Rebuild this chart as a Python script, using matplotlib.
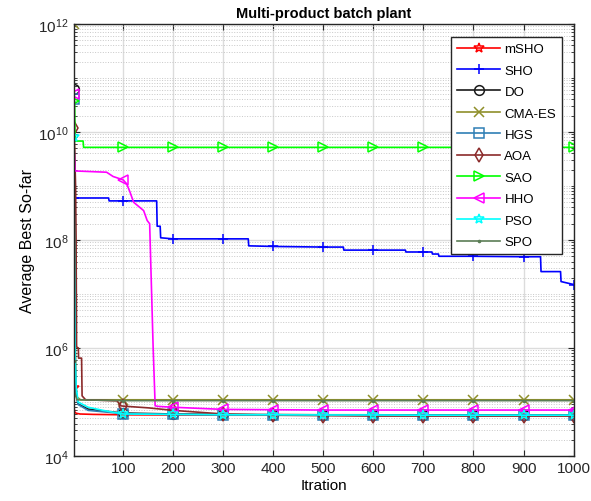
import numpy as np
import matplotlib.pyplot as plt
from matplotlib.ticker import LogLocator, NullFormatter, FixedLocator

plt.rcParams['font.family'] = ['Liberation Sans', 'DejaVu Sans']

labels = ['mSHO', 'SHO', 'DO', 'CMA-ES', 'HGS', 'AOA', 'SAO', 'HHO', 'PSO', 'SPO']
colors = ['#ff0000', '#0000ff', '#1a1a1a', '#8f8f2a', '#2f7fb5', '#8b2a2a',
          '#00ff00', '#ff00ff', '#00ffff', '#5b7d55']
markers = ['*', '+', 'o', 'x', 's', 'd', '>', '<', '*', '.']

marks_at = [1, 100, 200, 300, 400, 500, 600, 700, 800, 900, 1000]
tail = [200, 300, 400, 500, 600, 700, 800, 900, 1000]

# iteration / best value breakpoints
it_mSHO = [1, 2, 3, 6, 14, 40, 100] + tail
v_mSHO = [1.8e5, 8e4, 6.6e4, 6.2e4, 6.0e4, 5.9e4, 5.8e4,
          5.75e4, 5.7e4, 5.7e4, 5.7e4, 5.65e4, 5.65e4, 5.6e4, 5.6e4, 5.6e4]

it_SHO = [1, 71, 72, 100, 167, 168, 174, 175, 200, 300, 350, 351, 400, 500,
          540, 541, 600, 664, 665, 700, 717, 718, 730, 731, 800, 900, 934, 935,
          974, 975, 1000]
v_SHO = [6e8, 6e8, 5.3e8, 5.3e8, 5.3e8, 1.8e8, 1.8e8, 1.1e8, 1.05e8, 1.05e8,
         1.05e8, 7.8e7, 7.6e7, 7.4e7, 7.4e7, 6.5e7, 6.5e7, 6.5e7, 6e7, 6e7,
         6e7, 5.5e7, 5.5e7, 5e7, 5e7, 4.9e7, 4.9e7, 2.6e7, 2.6e7, 1.7e7, 1.5e7]

it_DO = [1, 2, 3, 4, 5, 7, 10, 30, 60, 100] + tail
v_DO = [6.3e10, 1e9, 5e7, 2e6, 2.5e5, 1.3e5, 9.2e4, 7.4e4, 6.8e4, 6.25e4,
        6e4, 5.9e4, 5.85e4, 5.8e4, 5.8e4, 5.75e4, 5.75e4, 5.75e4, 5.75e4]

it_CMA = [1, 2, 3, 4, 5, 15, 100] + tail
v_CMA = [1e12, 1e11, 1e9, 1e7, 1.3e5, 1.1e5, 1.1e5,
         1.1e5, 1.1e5, 1.1e5, 1.1e5, 1.1e5, 1.1e5, 1.1e5, 1.1e5, 1.1e5]

it_HGS = [1, 2, 3, 4, 6, 10, 30, 100] + tail
v_HGS = [4e10, 5e8, 1e7, 5e5, 1.5e5, 9e4, 7e4, 6.1e4,
         5.9e4, 5.8e4, 5.8e4, 5.75e4, 5.75e4, 5.7e4, 5.7e4, 5.7e4, 5.7e4]

it_AOA = [1, 3, 5, 6, 6.5, 7, 10.5, 11, 17, 18, 25, 88, 95, 100, 150] + tail
v_AOA = [1.2e10, 5e9, 1e9, 1e8, 1e7, 1.05e6, 1e6, 6.5e5, 6.5e5, 1.3e5, 1.1e5,
         1.05e5, 8.5e4, 8.4e4, 7.8e4, 7e4, 6e4, 5.7e4, 5.6e4, 5.5e4, 5.5e4,
         5.5e4, 5.5e4, 5.5e4]

it_SAO = [1, 3, 4, 20, 21, 100] + tail
v_SAO = [3.7e10, 3.7e10, 6.8e9, 6.8e9, 5.2e9, 5.2e9,
         5.2e9, 5.2e9, 5.2e9, 5.2e9, 5.2e9, 5.2e9, 5.2e9, 5.2e9, 5.2e9]

it_HHO = [1, 2, 4, 67, 80, 100, 107, 114, 121, 141, 148, 153, 160, 164, 170,
          200] + tail[1:]
v_HHO = [5e10, 5e9, 1.9e9, 1.8e9, 1.5e9, 1.3e9, 1.1e9, 7.6e8, 5e8, 3.5e8,
         2.3e8, 2e8, 1e6, 8.5e4, 8.3e4, 8e4,
         7.3e4, 7.2e4, 7.1e4, 7.1e4, 7.1e4, 7.1e4, 7.1e4, 7.1e4]

it_PSO = [1, 2, 3, 4, 6, 10, 30, 60, 100] + tail
v_PSO = [8e9, 1e9, 2e7, 8e5, 2e5, 1e5, 8e4, 7e4, 6e4,
         5.9e4, 5.8e4, 5.8e4, 5.75e4, 5.75e4, 5.7e4, 5.7e4, 5.7e4, 5.7e4]

it_SPO = [1, 3, 8, 100] + tail
v_SPO = [5.8e5, 1.5e5, 1.1e5, 1.06e5,
         1.06e5, 1.06e5, 1.06e5, 1.06e5, 1.06e5, 1.06e5, 1.06e5, 1.06e5, 1.06e5]

series = [(it_mSHO, v_mSHO), (it_SHO, v_SHO), (it_DO, v_DO), (it_CMA, v_CMA),
          (it_HGS, v_HGS), (it_AOA, v_AOA), (it_SAO, v_SAO), (it_HHO, v_HHO),
          (it_PSO, v_PSO), (it_SPO, v_SPO)]

fig = plt.figure(figsize=(5.91, 5.02), dpi=100)
ax = fig.add_axes([0.1245, 0.0896, 0.8460, 0.8606])

for (it, v), lab, c, m in zip(series, labels, colors, markers):
    idx = [i for i, x in enumerate(it) if x in marks_at]
    ax.plot(it, v, color=c, marker=m, markevery=idx, label=lab, lw=1.2,
            ms=7 if m not in ('.',) else 3, mfc='none', mew=1.1)

ax.set_yscale('log')
ax.set_xlim(1, 1000)
ax.set_ylim(1e4, 1e12)
ax.xaxis.set_major_locator(FixedLocator([100, 200, 300, 400, 500, 600, 700, 800, 900, 1000]))
ax.yaxis.set_major_locator(FixedLocator([1e4, 1e6, 1e8, 1e10, 1e12]))
ax.yaxis.set_minor_locator(LogLocator(base=10, subs=np.arange(1, 10), numticks=50))
ax.yaxis.set_minor_formatter(NullFormatter())
ax.tick_params(which='both', direction='in', top=True, right=True, labelsize=11,
               colors='#262626')
ax.tick_params(which='major', length=4)
ax.tick_params(which='minor', length=2)
ax.grid(True, which='major', color='#dcdcdc', lw=1)
ax.grid(True, which='minor', axis='y', color='#c8c8c8', ls=':', lw=0.7)
for s in ax.spines.values():
    s.set_color('#262626')
    s.set_linewidth(1)

ax.set_title('Multi-product batch plant', fontsize=10.5, fontweight='bold', pad=5)
ax.set_xlabel('Itration', fontsize=11, labelpad=2)
ax.set_ylabel('Average Best So-far', fontsize=11.5, labelpad=2)

leg = ax.legend(loc='upper right', bbox_to_anchor=(0.977, 0.97), fontsize=9.5,
                fancybox=False, framealpha=1, edgecolor='#262626',
                handlelength=3.3, handletextpad=0.3, labelspacing=0.7,
                borderaxespad=0, borderpad=0.45)
leg.get_frame().set_linewidth(1)

fig.savefig('out.png', dpi=100)
